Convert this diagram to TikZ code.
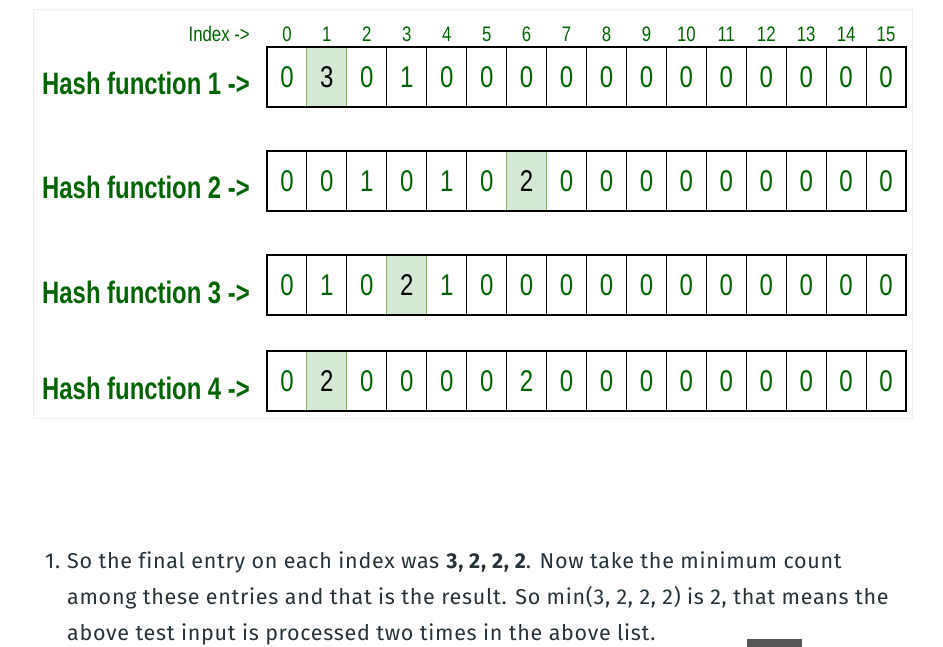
\documentclass[tikz,border=0pt]{standalone}
\usepackage{fontspec}
\newfontfamily\narrowfont[FakeStretch=0.8]{Liberation Sans}
\newfontfamily\labelfont[FakeStretch=0.77]{Liberation Sans}
\newfontfamily\bodyfont[LetterSpace=3.3,Ligatures=NoCommon]{Fira Sans}
\definecolor{hgreen}{RGB}{0,100,0}
\definecolor{hlfill}{HTML}{D5E8D4}
\definecolor{hlline}{HTML}{82B366}
\definecolor{bodytext}{HTML}{273239}
\definecolor{cardline}{HTML}{EEEEEE}
\definecolor{barfill}{HTML}{555555}
\begin{document}
\begin{tikzpicture}[x=1pt,y=-1pt,
  cell/.style={draw=black, line width=1.1pt, minimum width=39.94pt, minimum height=60pt,
    inner sep=0pt, outer sep=0pt, text=hgreen, font=\narrowfont\fontsize{30}{30}\selectfont},
  hlcell/.style={cell, fill=hlfill, draw=hlline, text=black},
  idx/.style={anchor=base, inner sep=0pt, text=hgreen, font=\narrowfont\fontsize{21}{21}\selectfont},
  hashlabel/.style={anchor=base east, inner sep=0pt, text=hgreen, font=\labelfont\bfseries\fontsize{31}{31}\selectfont},
  bodyline/.style={anchor=base west, inner sep=0pt, text=bodytext, font=\bodyfont\fontsize{21.5}{21.5}\selectfont}
]
\useasboundingbox[fill=white] (0,0) rectangle (943,647);
% card
\draw[cardline, line width=1pt, fill=white] (33,10) rectangle (912,418);

% index header
\node[idx, anchor=base east] (indexlbl) at (250,42) {Index ->};
\foreach \i in {0,...,15}{
  \node[idx] (idx\i) at ({267+39.94*(\i+0.5)},42) {\i};
}

% rows
\foreach \r/\yc/\vals/\hl in {
  1/77/{0,3,0,1,0,0,0,0,0,0,0,0,0,0,0,0}/1,
  2/181/{0,0,1,0,1,0,2,0,0,0,0,0,0,0,0,0}/6,
  3/285/{0,1,0,2,1,0,0,0,0,0,0,0,0,0,0,0}/3,
  4/381/{0,2,0,0,0,0,2,0,0,0,0,0,0,0,0,0}/1}{
  \node[hashlabel] (lbl\r) at (250,\yc+18) {Hash function \r\ ->};
  \foreach \v [count=\i from 0] in \vals {
    \ifnum\i=\hl\relax\else
      \node[cell] (r\r c\i) at ({267+39.94*(\i+0.5)},\yc) {\v};
    \fi
  }
  \foreach \v [count=\i from 0] in \vals {
    \ifnum\i=\hl\relax
      \node[hlcell] (r\r c\i) at ({267+39.94*(\i+0.5)},\yc) {\v};
    \fi
  }
  \draw[line width=1.8pt] (267,\yc-30) rectangle (906,\yc+30);
}

% text
\node[bodyline] (num) at (45,568) {1.};
\node[bodyline] (line1) at (67,568) {So the final entry on each index was \textbf{3, 2, 2, 2}. Now take the minimum count};
\node[bodyline] (line2) at (67,604) {among these entries and that is the result. So min(3, 2, 2, 2) is 2, that means the};
\node[bodyline] (line3) at (67,640) {above test input is processed two times in the above list.};

% bar
\fill[barfill] (747,639) rectangle (802,648);
\end{tikzpicture}
\end{document}
